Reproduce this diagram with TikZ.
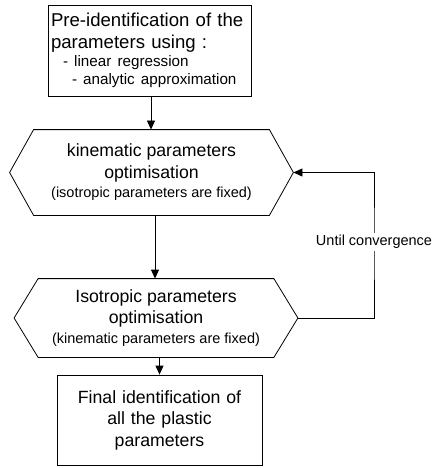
\documentclass[tikz,border=0pt]{standalone}
\usepackage{fontspec}
\setmainfont{Liberation Sans}
\usetikzlibrary{arrows.meta}
\newcommand{\bigf}{\fontsize{17.7}{21.5}\selectfont}
\newcommand{\smallf}{\fontsize{14.5}{17}\selectfont}
\newcommand{\topbigf}{\fontsize{18.6}{21.5}\selectfont}
\newcommand{\topsmallf}{\fontsize{15.2}{17}\selectfont}
\begin{document}
\begin{tikzpicture}[x=1pt,y=-1pt,
  line width=0.8pt,
  boxnode/.style={draw, rectangle, align=left, inner sep=0pt, inner xsep=3pt, font=\bigf},
  hexnode/.style={inner sep=0pt, align=center, font=\bigf},
  arr/.style={-{Triangle[width=8pt,length=9pt]}},
  lbl/.style={fill=white, font=\smallf, inner sep=2pt}]
\useasboundingbox (0,0) rectangle (431,468);
\fill[white] (0,0) rectangle (431,468);

\node[boxnode, font=\topbigf, text width=197pt, minimum height=91pt] (pre) at (149.5,50.5)
  {Pre-identification of the\\ parameters using :\\[-3pt]
   {\topsmallf\hspace*{12pt}- linear regression}\\[-4pt]
   {\topsmallf\hspace*{21pt}- analytic approximation}};

\node[hexnode, minimum width=235pt, minimum height=85pt] (kin) at (151.5,172.5)
  {kinematic parameters\\ optimisation\\[-2pt] {\smallf (isotropic parameters are fixed)}};
\draw (kin.north west) -- (kin.north east) -- ([xshift=24pt]kin.east) coordinate (kinr)
  -- (kin.south east) -- (kin.south west) -- ([xshift=-24pt]kin.west) -- cycle;

\node[hexnode, minimum width=235pt, minimum height=78pt] (iso) at (156,318)
  {Isotropic parameters\\ optimisation\\[-2pt] {\smallf (kinematic parameters are fixed)}};
\draw (iso.north west) -- (iso.north east) -- ([xshift=24pt]iso.east) coordinate (isor)
  -- (iso.south east) -- (iso.south west) -- ([xshift=-24pt]iso.west) -- cycle;

\node[boxnode, align=center, text width=199pt, minimum height=90pt] (fin) at (159.5,420)
  {Final identification of\\ all the plastic\\ parameters};

\coordinate (loop) at (374,242);

\draw[arr] (pre.south -| 151,0) -- (kin.north -| 151,0);
\draw[arr] (kin.south -| 155,0) -- (iso.north -| 155,0);
\draw[arr] (iso.south -| fin.north) -- (fin.north);
\draw[arr] (isor) -| (loop) |- (kinr);
\node[lbl] (until) at (loop) {Until convergence};
\end{tikzpicture}
\end{document}
